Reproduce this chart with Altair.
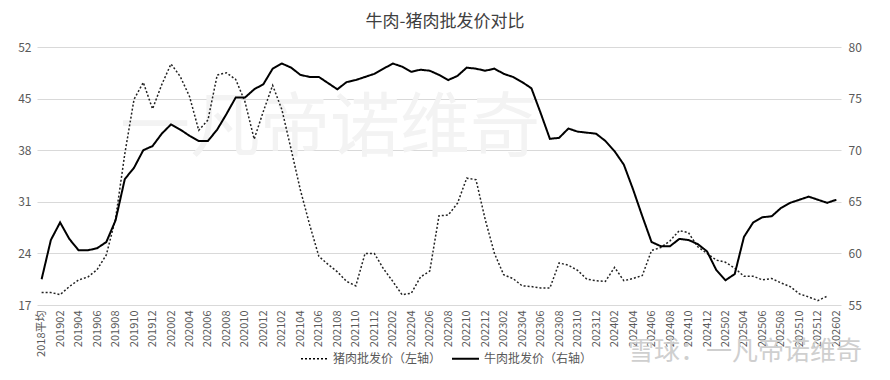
import altair as alt
import pandas as pd

months = ["2018平均"] + [f"{y}{m:02d}" for y in range(2019, 2027) for m in range(1, 13)][:86]

pork = [18.7, 18.7, 18.4, 19.5, 20.4, 20.8, 21.8, 23.8, 28.7, 37.5,
        44.9, 47.2, 43.6, 46.9, 49.7, 48.0, 45.3, 40.7, 42.1, 48.2,
        48.5, 47.6, 44.6, 39.5, 43.3, 46.8, 43.5, 38.1, 32.6, 27.9,
        23.6, 22.5, 21.5, 20.2, 19.6, 24.0, 24.0, 21.9, 20.2, 18.4,
        18.6, 20.8, 21.6, 29.1, 29.2, 30.8, 34.2, 34.0, 28.6, 24.0,
        21.1, 20.6, 19.6, 19.5, 19.3, 19.3, 22.7, 22.4, 21.7, 20.5,
        20.3, 20.2, 22.1, 20.3, 20.6, 21.0, 24.4, 24.8, 25.7, 27.1,
        26.8, 24.9, 24.0, 23.1, 22.8, 22.0, 20.9, 20.9, 20.4, 20.6,
        20.0, 19.5, 18.5, 18.1, 17.6, 18.2, None]

beef = [57.5, 61.3, 63.0, 61.4, 60.3, 60.3, 60.5, 61.1, 63.2, 67.2,
        68.3, 70.0, 70.4, 71.6, 72.5, 72.0, 71.4, 70.9, 70.9, 72.0,
        73.5, 75.1, 75.1, 75.9, 76.4, 77.9, 78.4, 78.0, 77.3, 77.1,
        77.1, 76.5, 75.9, 76.6, 76.8, 77.1, 77.4, 77.9, 78.4, 78.1,
        77.6, 77.8, 77.7, 77.3, 76.8, 77.2, 78.0, 77.9, 77.7, 77.9,
        77.4, 77.1, 76.6, 76.0, 73.6, 71.1, 71.2, 72.1, 71.8, 71.7,
        71.6, 70.9, 69.9, 68.6, 66.2, 63.6, 61.1, 60.7, 60.7, 61.4,
        61.3, 60.9, 60.2, 58.4, 57.4, 58.0, 61.6, 63.0, 63.5, 63.6,
        64.4, 64.9, 65.2, 65.5, 65.2, 64.9, 65.2]

series = ["猪肉批发价（左轴）", "牛肉批发价（右轴）"]
left_ticks = [17, 24, 31, 38, 45, 52]
right_ticks = [55, 60, 65, 70, 75, 80]
x_labels = months[::2]
title_text = "牛肉-猪肉批发价对比"
wm_big = "一凡帝诺维奇"
wm_small = "雪球：一凡帝诺维奇"

FONT = "Noto Sans CJK SC"
GREY = "#595959"

df_p = pd.DataFrame({"月份": months, "价格": pork, "系列": series[0]}).dropna()
df_b = pd.DataFrame({"月份": months, "价格": beef, "系列": series[1]})

x_enc = alt.X("月份:N", sort=months, scale=alt.Scale(domain=months),
              axis=alt.Axis(values=x_labels, labelAngle=270, title=None, domain=False,
                            ticks=False, grid=False, labelFontSize=11, labelColor=GREY,
                            labelFont=FONT, labelPadding=5))

legend = alt.Legend(orient="none", legendX=263, legendY=297, direction="horizontal",
                    title=None, symbolType="stroke", symbolSize=729,
                    symbolStrokeColor="black", labelFontSize=12, labelColor=GREY,
                    labelFont=FONT, labelOffset=4, columnPadding=6)

dash = alt.StrokeDash("系列:N", scale=alt.Scale(domain=series, range=[[2, 2], [1, 0]]),
                      legend=legend)
width = alt.StrokeWidth("系列:N", scale=alt.Scale(domain=series, range=[1.5, 2]),
                        legend=legend)

wm1 = alt.Chart(pd.DataFrame({"t": [wm_big]})).mark_text(
    font=FONT, fontSize=70, color="#f3f3f3", align="center", baseline="middle"
).encode(text="t:N", x=alt.value(293), y=alt.value(83))

pork_line = alt.Chart(df_p).mark_line(color="#222222").encode(
    x=x_enc,
    y=alt.Y("价格:Q", scale=alt.Scale(domain=[17, 52], nice=False, zero=False),
            axis=alt.Axis(values=left_ticks, title=None, domain=False, ticks=False,
                          gridColor="#d9d9d9", labelFontSize=12, labelColor=GREY,
                          labelFont=FONT, labelPadding=6, orient="left")),
    strokeDash=dash, strokeWidth=width)

beef_line = alt.Chart(df_b).mark_line(color="black").encode(
    x=x_enc,
    y=alt.Y("价格:Q", scale=alt.Scale(domain=[55, 80], nice=False, zero=False),
            axis=alt.Axis(values=right_ticks, title=None, domain=False, ticks=False,
                          grid=False, labelFontSize=12, labelColor=GREY,
                          labelFont=FONT, labelPadding=7, orient="right")),
    strokeDash=dash, strokeWidth=width)

wm2 = alt.Chart(pd.DataFrame({"t": [wm_small]})).mark_text(
    font=FONT, fontSize=26, color="#cfcfcf", align="left", baseline="middle"
).encode(text="t:N", x=alt.value(591), y=alt.value(305))

chart = alt.layer(wm1, pork_line, beef_line, wm2).resolve_scale(
    y="independent"
).properties(
    width=804, height=258,
    autosize="none",
    padding={"left": 29, "top": 39, "right": 41, "bottom": 67},
    title=alt.TitleParams(title_text, fontSize=17, font=FONT, color="#404040",
                          fontWeight="normal", anchor="middle", offset=10, dx=6),
).configure_view(stroke=None)

chart.save("out.html", embed_options={"renderer": "svg", "actions": False})
